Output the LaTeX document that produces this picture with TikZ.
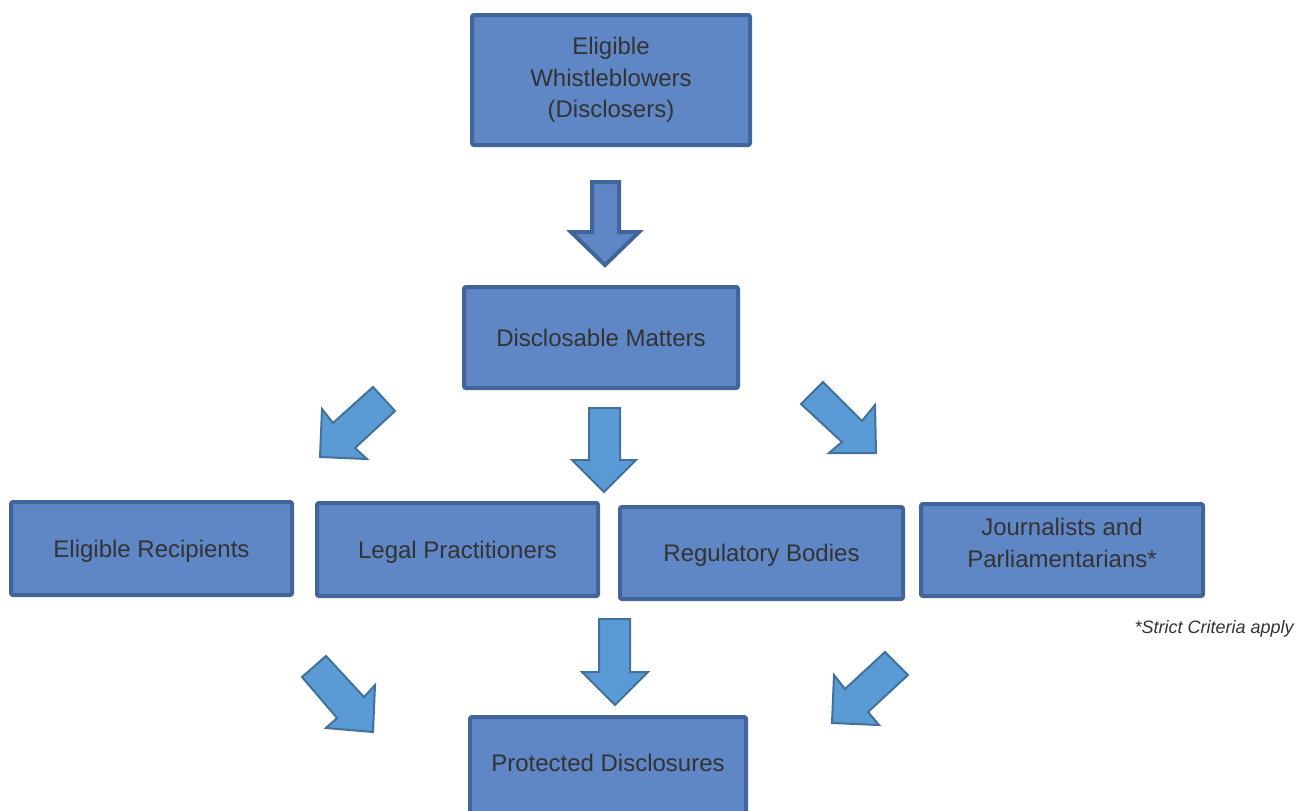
\documentclass[tikz,border=0pt]{standalone}
\usepackage{fontspec}
\setmainfont{Liberation Sans}
\definecolor{boxfill}{HTML}{5F87C5}
\definecolor{boxline}{HTML}{41649A}
\definecolor{arrfill}{HTML}{5B9BD5}
\definecolor{arrline}{HTML}{41719C}
\definecolor{txt}{HTML}{333333}
\begin{document}
\begin{tikzpicture}[x=0.5pt,y=-0.5pt,
  box/.style={draw=boxline, fill=boxfill, line width=2pt, rounded corners=1pt,
    text=txt, font=\fontsize{12}{15.75}\selectfont, align=center, inner sep=0pt},
  lbl/.style={text=txt, font=\fontsize{12}{15.75}\selectfont, align=center, inner sep=0pt},
  blockarrow/.style={draw=arrline, fill=arrfill, line width=1pt, line join=miter},
  bigarrow/.style={draw=boxline, fill=boxfill, line width=2pt, line join=miter}]
\clip (0,0) rectangle (1307,810);
\fill[white] (0,0) rectangle (1307,810);

% boxes
\node[box, minimum width=139pt, minimum height=65pt] (top) at (611,80)
  {Eligible\\Whistleblowers\\(Disclosers)};
\node[box, minimum width=137pt, minimum height=50.5pt] (disc) at (601,337.5)
  {Disclosable Matters};
\node[box, text depth=0pt, minimum width=140.5pt, minimum height=46.5pt] (rec) at (151.5,548.5)
  {Eligible Recipients};
\node[box, text depth=0pt, minimum width=140.5pt, minimum height=46.5pt] (legal) at (457.5,549.5)
  {Legal Practitioners};
\node[box, text depth=0pt, minimum width=141.5pt, minimum height=46pt] (reg) at (761.5,553)
  {Regulatory Bodies};
\node[box, text depth=7pt, minimum width=141pt, minimum height=46pt] (jour) at (1062,550)
  {Journalists and\\Parliamentarians*};
\node[box, minimum width=138pt, minimum height=71.5pt] (prot) at (608,788.5) {};
\node[lbl] (protlabel) at (608,763) {Protected Disclosures};

\node[anchor=east, inner sep=0pt, text=txt, font=\fontsize{9}{11}\selectfont\itshape]
  (note) at (1294,629) {*Strict Criteria apply};

% arrow: whistleblowers -> matters
\draw[bigarrow] (592,182) -- (619,182) -- (619,232) -- (639,232) -- (605,265)
  -- (571,232) -- (592,232) -- cycle;

% arrows: matters -> recipients
\draw[blockarrow] (320,457) -- (322,409) -- (333,423) -- (373,387) -- (395,411)
  -- (355,448) -- (367,459) -- cycle;
\draw[blockarrow] (589,408) -- (620,408) -- (620,460) -- (636,460) -- (604,492)
  -- (572,460) -- (589,460) -- cycle;
\draw[blockarrow] (801,404) -- (823,382) -- (862,421) -- (875,405) -- (876,453)
  -- (829,453) -- (842,442) -- cycle;

% arrows: recipients -> protected disclosures
\draw[blockarrow] (302,677) -- (326,656) -- (364,697) -- (375,685) -- (373,732)
  -- (326,728) -- (337,718) -- cycle;
\draw[blockarrow] (599,619) -- (630,619) -- (630,672) -- (648,672) -- (615,705)
  -- (582,672) -- (599,672) -- cycle;
\draw[blockarrow] (885,652) -- (908,675) -- (868,712) -- (879,725) -- (832,723)
  -- (834,675) -- (845,689) -- cycle;
\end{tikzpicture}
\end{document}
